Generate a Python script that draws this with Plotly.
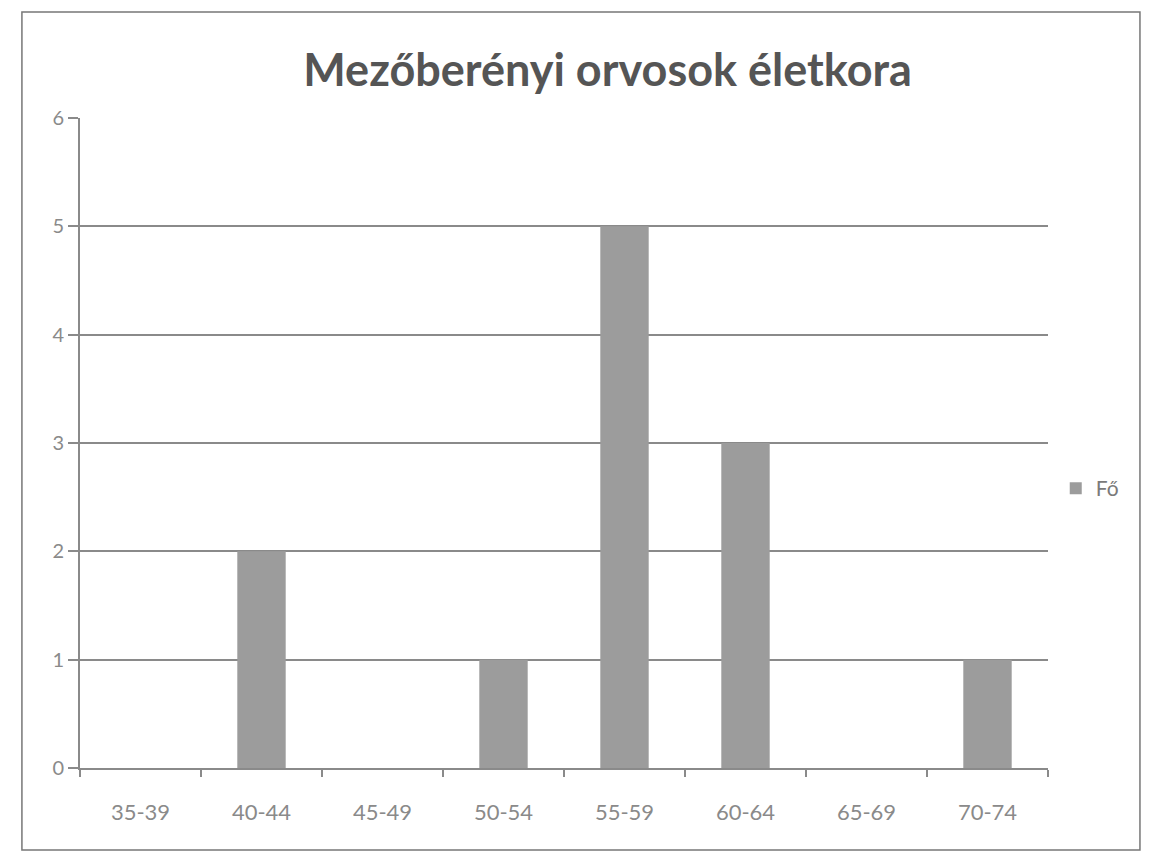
import plotly.graph_objects as go

categories = ["35-39", "40-44", "45-49", "50-54", "55-59", "60-64", "65-69", "70-74"]
values = [0, 2, 0, 1, 5, 3, 0, 1]
series_name = "Fő"
title_text = "Mezőberényi orvosok életkora"

fig = go.Figure()
fig.add_trace(go.Bar(x=categories, y=values, name=series_name,
                     marker=dict(color="#9c9c9c", line=dict(width=0))))

fig.update_layout(
    width=1153, height=868,
    paper_bgcolor="white", plot_bgcolor="white",
    margin=dict(l=72, r=113, t=110, b=108),
    bargap=0.6,
    showlegend=True,
    title=dict(text=title_text, x=0.545, xref="paper", y=0.928, yref="container",
               xanchor="center", yanchor="middle",
               font=dict(family="Lato", size=45, color="#555555", weight="bold")),
    legend=dict(x=1.008, y=0.43, xanchor="left", yanchor="middle",
                font=dict(family="Lato", size=21, color="#7a7a7a"),
                bgcolor="rgba(0,0,0,0)"),
    font=dict(family="Lato", color="#888888"),
    shapes=[dict(type="rect", xref="paper", yref="paper",
                 x0=-0.06, x1=1.095, y0=-0.126, y1=1.163,
                 line=dict(color="#777777", width=1.5), fillcolor="rgba(0,0,0,0)",
                 layer="below")],
)

fig.update_xaxes(
    type="category", showgrid=False, showline=True, linecolor="#8a8a8a", linewidth=2,
    ticks="outside", tickson="boundaries", ticklen=7, tickcolor="#8a8a8a", tickwidth=2,
    ticklabelstandoff=24,
    tickfont=dict(family="Lato", size=22, color="#8a8a8a"),
)
fig.update_yaxes(
    range=[0, 6], dtick=1, showgrid=True, gridcolor="#8a8a8a", gridwidth=2,
    showline=True, linecolor="#8a8a8a", linewidth=2, zeroline=False,
    ticks="outside", ticklen=10, tickcolor="#8a8a8a", tickwidth=2,
    ticklabelstandoff=0,
    tickfont=dict(family="Lato", size=20, color="#8a8a8a"),
)

fig.write_html("out.html")
